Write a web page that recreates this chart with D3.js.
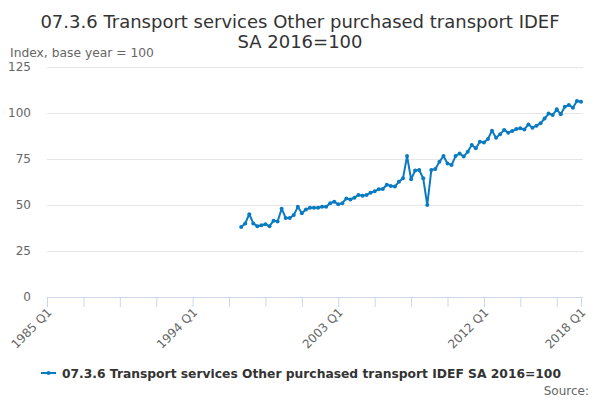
<!DOCTYPE html>
<html>
<head>
<meta charset="utf-8">
<script src="https://cdn.jsdelivr.net/npm/d3@7"></script>
<style>
  body { margin: 0; background: #fff; }
  svg text { font-family: "DejaVu Sans", sans-serif; }
</style>
</head>
<body>
<div id="chart"></div>
<script>
"use strict"
// quarterly series, starts 1997 Q1, ends 2018 Q1
const firstYear = 1997;
const values = [
  38, 40, 45, 40, 38.5, 39, 39.5, 38.5, 41.5, 41,
  48, 43, 43, 44.5, 49, 45.5, 47.5, 48.5, 48.5, 48.5,
  49, 49, 51, 51.8, 50.4, 51, 53.6, 53, 54, 55.5,
  55, 55.5, 56.7, 57.5, 58.5, 58.7, 61, 60.3, 60, 62.7,
  64.5, 76.6, 64, 68.7, 69, 64.5, 50, 69, 69.6, 73.5,
  76.6, 72.6, 71.7, 76.6, 78, 76.3, 79, 82.6, 80.8, 84.4,
  84, 85.9, 90.4, 86.6, 88.4, 90.8, 89.3, 90.2, 91.3, 91.7,
  91.1, 93.8, 92, 93.1, 94.4, 97, 99.7, 98.9, 102, 99.3,
  103.4, 104.3, 102.9, 106.5, 106.1
];
const yTicks = [0, 25, 50, 75, 100, 125];
const xTickLabels = ["1985 Q1", "1994 Q1", "2003 Q1", "2012 Q1", "2018 Q1"];
const titleLines = ["07.3.6 Transport services Other purchased transport IDEF", "SA 2016=100"];
const seriesName = "07.3.6 Transport services Other purchased transport IDEF SA 2016=100";

// quarter index counted from 1985 Q1
function qIndex(year, q) { return (year - 1985) * 4 + (q - 1); }
function qLabel(i) { return (1985 + Math.floor(i / 4)) + " Q" + (i % 4 + 1); }

const data = values.map((v, i) => ({ q: qIndex(firstYear, 1) + i, v: v }));

const fullWidth = 600, fullHeight = 400;
const plotLeft = 47, plotRight = 581, plotTop = 67, plotBottom = 297;

const svg = d3.select("#chart").append("svg")
  .attr("width", fullWidth).attr("height", fullHeight);

const xScale = d3.scaleLinear().domain([0, qIndex(2018, 1)]).range([plotLeft, plotRight]);
const yScale = d3.scaleLinear().domain([0, 125]).range([plotBottom, plotTop]);

// title
svg.append("text")
  .attr("x", 300).attr("y", 28)
  .attr("text-anchor", "middle")
  .attr("font-size", 18).attr("fill", "#333")
  .selectAll("tspan").data(titleLines).enter().append("tspan")
    .attr("x", 300).attr("dy", (d, i) => i ? 20 : 0)
    .text(d => d);

svg.append("text")
  .attr("x", 10).attr("y", 57)
  .attr("font-size", 12.3).attr("fill", "#666")
  .text("Index, base year = 100");

// y grid + labels
const yAxis = d3.axisLeft(yScale).tickValues(yTicks).tickSize(-(plotRight - plotLeft + 2)).tickPadding(16);
svg.append("g")
  .attr("transform", "translate(" + plotLeft + ",0)")
  .call(yAxis)
  .call(g => g.select(".domain").remove())
  .call(g => g.selectAll(".tick line").attr("stroke", "#e6e6e6"))
  .call(g => g.selectAll(".tick text").attr("fill", "#666").attr("font-size", 12)
    .attr("font-family", "DejaVu Sans, sans-serif"));

// x axis: a tick every 9 quarters plus the last quarter
const tickVals = d3.range(0, qIndex(2018, 1), 9).concat([qIndex(2018, 1)]);
const xAxis = d3.axisBottom(xScale).tickValues(tickVals).tickSize(10)
  .tickFormat(d => xTickLabels.indexOf(qLabel(d)) >= 0 ? qLabel(d) : "");
svg.append("g")
  .attr("transform", "translate(0," + plotBottom + ")")
  .call(xAxis)
  .call(g => g.select(".domain").attr("stroke", "#ccd6eb").attr("d", "M" + plotLeft + ",0.5H" + (plotRight + 2)))
  .call(g => g.selectAll(".tick line").attr("stroke", "#ccd6eb"))
  .call(g => g.selectAll(".tick text")
    .attr("fill", "#666").attr("font-size", 12)
    .attr("font-family", "DejaVu Sans, sans-serif")
    .attr("text-anchor", "end")
    .attr("dy", 0).attr("y", 0)
    .attr("transform", "translate(5,16) rotate(-45)"));

// series
const blue = "#0a7bc1";
const line = d3.line().x(d => xScale(d.q)).y(d => yScale(d.v));
svg.append("path").datum(data)
  .attr("fill", "none").attr("stroke", blue).attr("stroke-width", 2)
  .attr("stroke-linejoin", "round")
  .attr("d", line);
svg.append("g").selectAll("circle").data(data).enter().append("circle")
  .attr("cx", d => xScale(d.q)).attr("cy", d => yScale(d.v))
  .attr("r", 2).attr("fill", blue);

// legend
const lg = svg.append("g").attr("transform", "translate(0,373)");
lg.append("line").attr("x1", 41).attr("x2", 56).attr("y1", 0).attr("y2", 0)
  .attr("stroke", blue).attr("stroke-width", 2);
lg.append("circle").attr("cx", 48.5).attr("cy", 0).attr("r", 2).attr("fill", blue);
lg.append("text").attr("x", 62).attr("y", 4.5)
  .attr("font-size", 12.3).attr("font-weight", "bold").attr("fill", "#333")
  .text(seriesName);

svg.append("text")
  .attr("x", 589).attr("y", 395)
  .attr("text-anchor", "end")
  .attr("font-size", 12).attr("fill", "#666")
  .text("Source:");
</script>
</body>
</html>
